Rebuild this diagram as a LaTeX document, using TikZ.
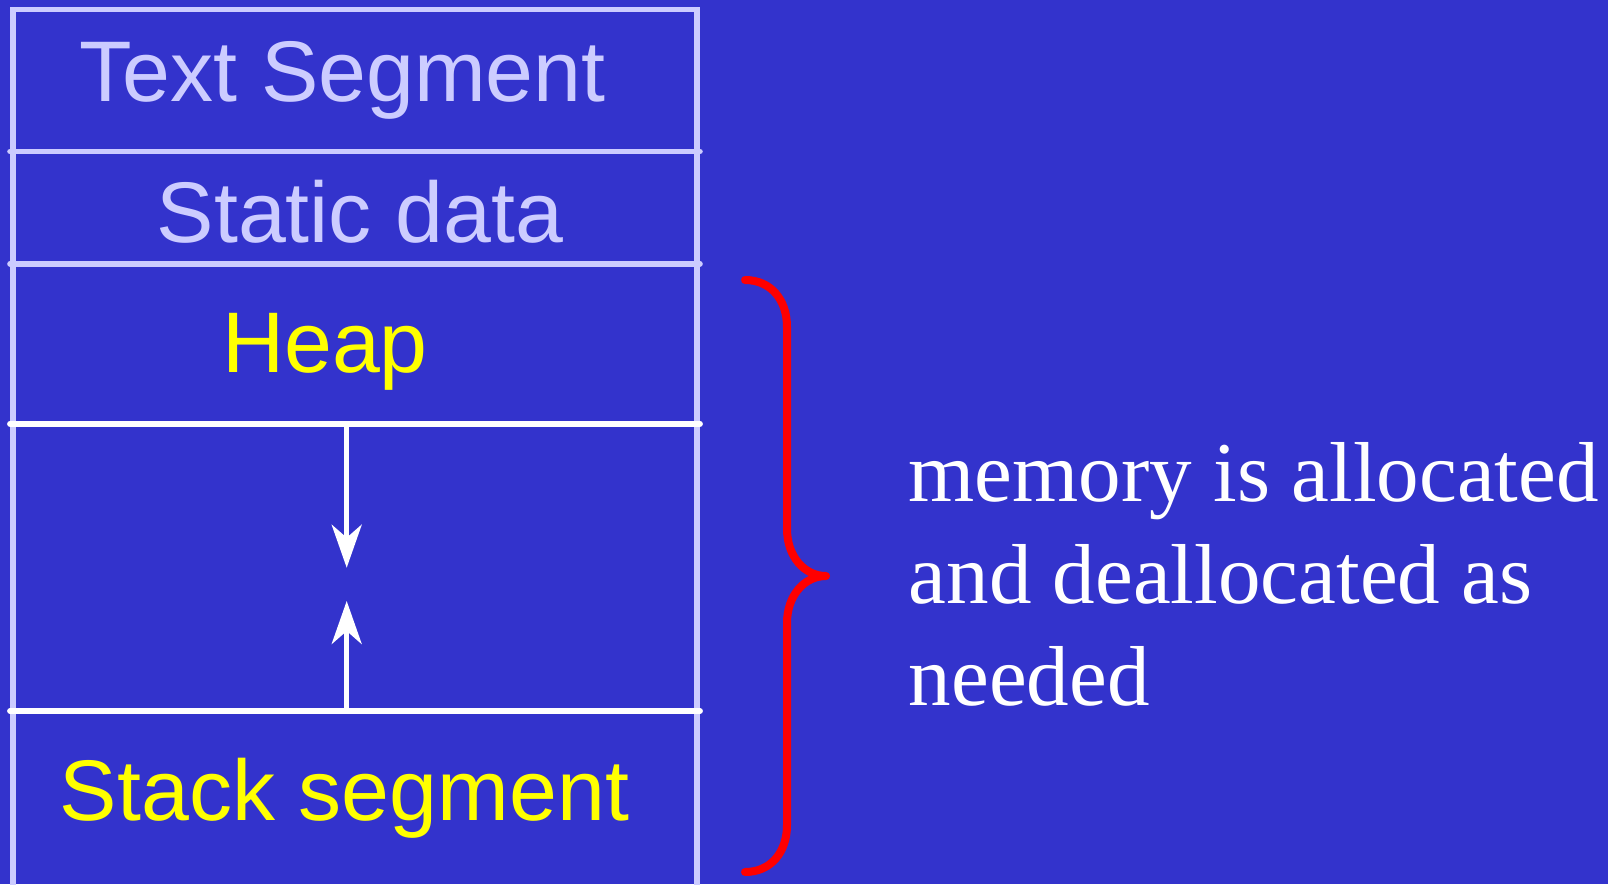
\documentclass[tikz,border=0pt]{standalone}
\usepackage{fontspec}
\setmainfont{Liberation Serif}
\newfontfamily\arialfont{Liberation Sans}
\usetikzlibrary{arrows.meta}
\definecolor{bgblue}{RGB}{51,51,204}
\definecolor{lav}{RGB}{204,204,255}
\definecolor{yel}{RGB}{255,255,0}
\definecolor{bred}{RGB}{255,0,0}
\tikzset{
  frameline/.style={draw=lav, line width=0.056cm, line cap=round},
  whiteline/.style={draw=white, line width=0.058cm, line cap=round},
  growarrow/.style={draw=white, line width=0.046cm,
    -{Stealth[length=0.43cm, width=0.30cm, inset=0.13cm]}},
  bracepath/.style={draw=bred, line width=0.08cm, line cap=round, line join=round},
  seglabel/.style={anchor=base, inner sep=0pt, font=\arialfont\fontsize{24.47pt}{29pt}\selectfont},
  notelabel/.style={anchor=base west, inner sep=0pt, align=left, text=white,
    font=\fontsize{24.2pt}{29pt}\selectfont}
}
\begin{document}
\begin{tikzpicture}[x=0.01cm, y=-0.01cm]
\fill[bgblue] (0,0) rectangle (1608,884);
\useasboundingbox (0,0) rectangle (1608,884);
% frame
\draw[frameline] (12.7,900) -- (12.7,9.5) -- (697,9.5) -- (697,900);
\draw[frameline] (10,151.5) -- (700,151.5);
\draw[frameline] (10,263.8) -- (700,263.8);
\draw[whiteline] (10,423.7) -- (700,423.7);
\draw[whiteline] (10,711) -- (700,711);
% labels
\node[seglabel, text=lav] (text) at (342.5,101.7) {Text Segment};
\node[seglabel, text=lav] (static) at (360,242.7) {Static data};
\node[seglabel, text=yel] (heap) at (325,372.3) {Heap};
\node[seglabel, text=yel] (stack) at (344.5,820.7) {Stack segment};
% arrows
\coordinate (heaptop) at (346.7,423.7);
\coordinate (heaptip) at (346.7,567.7);
\coordinate (stackbot) at (346.7,711);
\coordinate (stacktip) at (346.7,601);
\draw[growarrow] (heaptop) -- (heaptip);
\draw[growarrow] (stackbot) -- (stacktip);
% brace
\coordinate (bt) at (745,280);
\coordinate (bm) at (826,576);
\coordinate (bb) at (745,872);
\draw[bracepath] (bt) .. controls (771,280) and (787,300) .. (787,327)
  -- (787,529) .. controls (787,556) and (804,576) .. (bm)
  .. controls (804,576) and (787,596) .. (787,623)
  -- (787,825) .. controls (787,852) and (771,872) .. (bb);
% note (base anchor = baseline of last line)
\node[notelabel] (note) at (908,705) {memory is allocated\\and deallocated as\\needed};
\end{tikzpicture}
\end{document}
